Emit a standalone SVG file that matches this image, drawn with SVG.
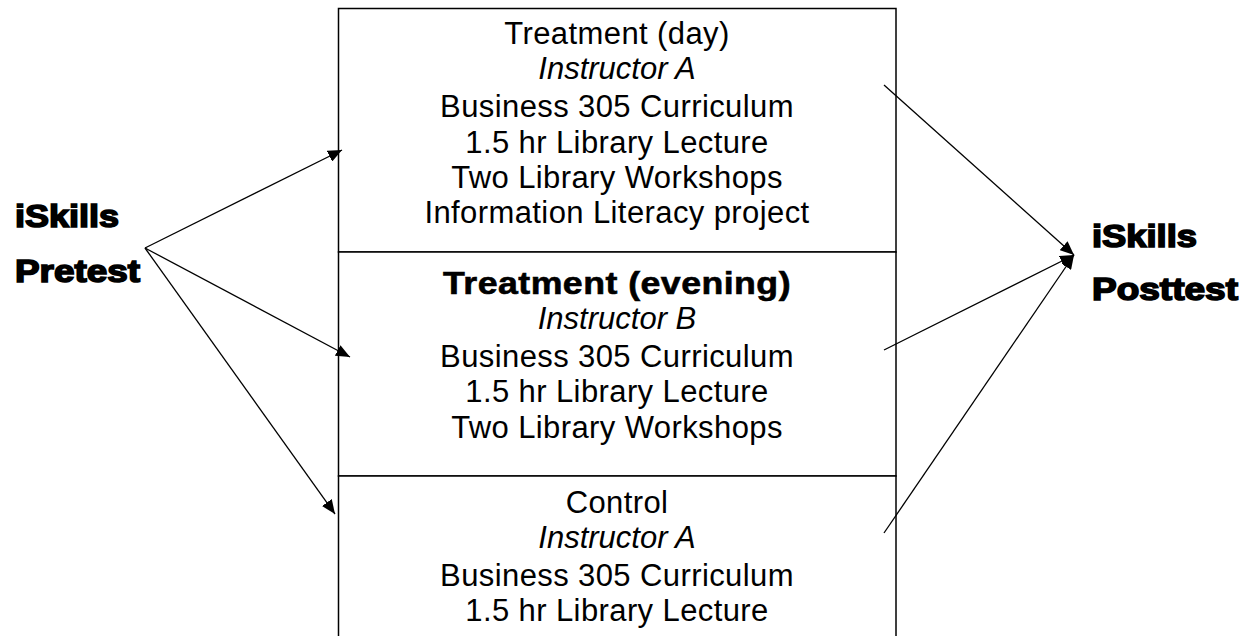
<svg xmlns="http://www.w3.org/2000/svg" width="1247" height="636" viewBox="0 0 1247 636">
<style>
.box{fill:#fff;stroke:#000;stroke-width:1.5}
.t{font-family:"Liberation Sans",Arial,sans-serif;font-size:31px;letter-spacing:0.4px;fill:#000;text-anchor:middle}
.i{font-style:italic;letter-spacing:0}
.b{font-weight:bold;stroke:#000;stroke-width:0.6}
.h{font-family:"Liberation Sans",Arial,sans-serif;font-size:31px;font-weight:bold;fill:#000;stroke:#000;stroke-width:1.6}
.c{stroke:#000;stroke-width:1.3;fill:none;marker-end:url(#ah)}
</style>
<defs>
<marker id="ah" markerUnits="userSpaceOnUse" markerWidth="16" markerHeight="12" refX="14" refY="6" orient="auto">
<path d="M0,0 L14,6 L0,12 Z" fill="#000"/>
</marker>
</defs>
<g id="pretest">
<text class="h" x="15" y="227" textLength="104" lengthAdjust="spacingAndGlyphs">iSkills</text>
<text class="h" x="15" y="282" textLength="125" lengthAdjust="spacingAndGlyphs">Pretest</text>
</g>
<g id="posttest">
<text class="h" x="1092" y="247" textLength="105" lengthAdjust="spacingAndGlyphs">iSkills</text>
<text class="h" x="1092" y="300" textLength="146" lengthAdjust="spacingAndGlyphs">Posttest</text>
</g>
<g id="treatment-day">
<rect class="box" x="338.5" y="8.5" width="557.5" height="243.5"/>
<text class="t" x="617" y="44">Treatment (day)</text>
<text class="t i" x="617" y="79">Instructor A</text>
<text class="t" x="617" y="117">Business 305 Curriculum</text>
<text class="t" x="617" y="153">1.5 hr Library Lecture</text>
<text class="t" x="617" y="188">Two Library Workshops</text>
<text class="t" x="617" y="223">Information Literacy project</text>
</g>
<g id="treatment-evening">
<rect class="box" x="338.5" y="252" width="557.5" height="224"/>
<text class="t b" x="617" y="294" textLength="348" lengthAdjust="spacingAndGlyphs">Treatment (evening)</text>
<text class="t i" x="617" y="329">Instructor B</text>
<text class="t" x="617" y="367">Business 305 Curriculum</text>
<text class="t" x="617" y="402">1.5 hr Library Lecture</text>
<text class="t" x="617" y="438">Two Library Workshops</text>
</g>
<g id="control">
<rect class="box" x="338.5" y="476" width="557.5" height="200"/>
<text class="t" x="617" y="513">Control</text>
<text class="t i" x="617" y="548">Instructor A</text>
<text class="t" x="617" y="586">Business 305 Curriculum</text>
<text class="t" x="617" y="621">1.5 hr Library Lecture</text>
</g>
<g id="connectors">
<line class="c" x1="145" y1="248" x2="342" y2="150"/>
<line class="c" x1="145" y1="248" x2="350" y2="357"/>
<line class="c" x1="145" y1="248" x2="335" y2="514"/>
<line class="c" x1="884" y1="85" x2="1074" y2="255"/>
<line class="c" x1="884" y1="350" x2="1074" y2="255"/>
<line class="c" x1="884" y1="533" x2="1074" y2="255"/>
</g>
</svg>
